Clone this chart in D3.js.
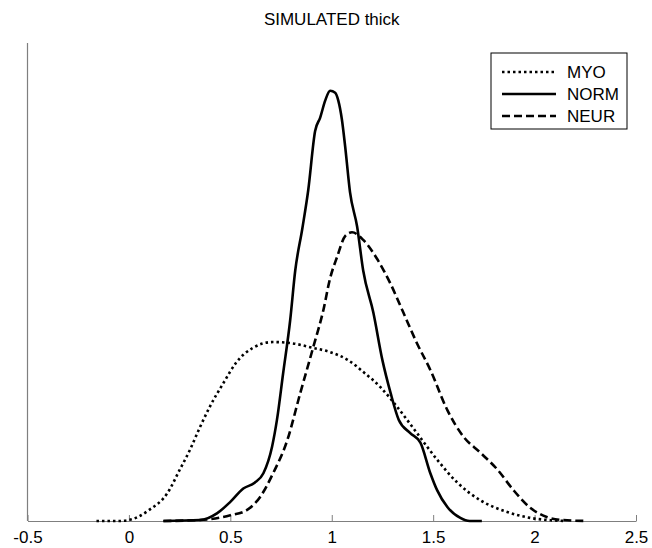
<!DOCTYPE html>
<html>
<head>
<meta charset="utf-8">
<script src="https://cdn.jsdelivr.net/npm/d3@7"></script>
<style>
  body { margin: 0; background: #fff; }
  text { font-family: "Liberation Sans", Arial, sans-serif; }
</style>
</head>
<body>
<div id="chart"></div>
<script>
var title = "SIMULATED thick";
var seriesNames = ["MYO", "NORM", "NEUR"];
var xTicks = [-0.5, 0, 0.5, 1, 1.5, 2, 2.5];

var myoX = [-0.16, -0.05, 0.0, 0.1, 0.19, 0.25, 0.3, 0.35, 0.4, 0.465, 0.53, 0.61, 0.71, 0.8, 0.91, 0.99, 1.08, 1.155, 1.24, 1.32, 1.42, 1.52, 1.62, 1.73, 1.865, 1.98, 2.08, 2.15];
var myoY = [0.0, 0.0, 0.005, 0.058, 0.146, 0.267, 0.37, 0.49, 0.6, 0.72, 0.83, 0.905, 0.936, 0.93, 0.905, 0.884, 0.842, 0.78, 0.70, 0.60, 0.46, 0.32, 0.20, 0.11, 0.047, 0.016, 0.004, 0.0];

var normX = [0.17, 0.35, 0.434, 0.5, 0.564, 0.62, 0.663, 0.706, 0.73, 0.76, 0.795, 0.82, 0.855, 0.884, 0.918, 0.943, 0.968, 0.992, 1.017, 1.032, 1.05, 1.066, 1.09, 1.125, 1.155, 1.205, 1.25, 1.29, 1.33, 1.387, 1.437, 1.486, 1.52, 1.57, 1.634, 1.68, 1.74];
var normY = [0.0, 0.005, 0.04, 0.10, 0.17, 0.20, 0.25, 0.39, 0.53, 0.77, 1.05, 1.31, 1.53, 1.73, 2.04, 2.11, 2.20, 2.25, 2.24, 2.20, 2.10, 1.96, 1.72, 1.54, 1.31, 1.09, 0.84, 0.67, 0.53, 0.46, 0.41, 0.25, 0.16, 0.073, 0.016, 0.0, 0.0];

var neurX = [0.17, 0.35, 0.5, 0.583, 0.647, 0.711, 0.78, 0.845, 0.909, 0.958, 0.992, 1.026, 1.066, 1.1, 1.155, 1.224, 1.29, 1.353, 1.42, 1.486, 1.57, 1.65, 1.73, 1.816, 1.897, 1.98, 2.06, 2.14, 2.26];
var neurY = [0.0, 0.005, 0.03, 0.058, 0.126, 0.25, 0.42, 0.67, 0.91, 1.10, 1.27, 1.38, 1.49, 1.51, 1.47, 1.37, 1.24, 1.09, 0.93, 0.79, 0.58, 0.44, 0.36, 0.27, 0.16, 0.068, 0.021, 0.005, 0.0];

var width = 652, height = 548;
var margin = {top: 43, left: 27.5, right: 16, bottom: 27};

var svg = d3.select("#chart").append("svg")
    .attr("width", width)
    .attr("height", height);

var xScale = d3.scaleLinear()
    .domain([-0.5, 2.5])
    .range([margin.left, width - margin.right]);

var yScale = d3.scaleLinear()
    .domain([0, 2.5])
    .range([height - margin.bottom, margin.top]);

var xAxis = svg.append("g")
    .attr("transform", `translate(0,${height - margin.bottom})`)
    .call(d3.axisBottom(xScale).tickValues(xTicks).tickSizeInner(-6).tickSizeOuter(0).tickPadding(10)
        .tickFormat(function(d) { return String(d); }));
xAxis.select(".domain").attr("stroke", "#7f7f7f").attr("stroke-width", 1.2);
xAxis.selectAll(".tick line").attr("stroke", "#7f7f7f");
xAxis.selectAll(".tick text")
    .attr("fill", "#000")
    .style("font-size", "17px")
    .style("font-family", "'Liberation Sans', Arial, sans-serif");

svg.append("line")
    .attr("x1", xScale(-0.5)).attr("x2", xScale(-0.5))
    .attr("y1", yScale(2.5)).attr("y2", yScale(0))
    .attr("stroke", "#7f7f7f")
    .attr("stroke-width", 1.2);

svg.append("text")
    .attr("x", (xScale(-0.5) + xScale(2.5)) / 2)
    .attr("y", 25)
    .attr("text-anchor", "middle")
    .style("font-size", "17px")
    .text(title);

var styles = {
    MYO: {dash: "2.5,3", width: 2.6},
    NORM: {dash: null, width: 2.6},
    NEUR: {dash: "8,4", width: 2.6}
};

var seriesData = [
    {name: "MYO", x: myoX, y: myoY},
    {name: "NORM", x: normX, y: normY},
    {name: "NEUR", x: neurX, y: neurY}
];

var line = d3.line()
    .x(function(d) { return xScale(d[0]); })
    .y(function(d) { return yScale(d[1]); })
    .curve(d3.curveMonotoneX);

seriesData.forEach(function(s) {
    var pts = s.x.map(function(v, i) { return [v, s.y[i]]; });
    svg.append("path")
        .datum(pts)
        .attr("fill", "none")
        .attr("stroke", "#000")
        .attr("stroke-width", styles[s.name].width)
        .attr("stroke-dasharray", styles[s.name].dash)
        .attr("d", line);
});

// legend
var legend = svg.append("g").attr("transform", "translate(491,53)");
legend.append("rect")
    .attr("width", 136).attr("height", 76)
    .attr("fill", "#fff")
    .attr("stroke", "#000")
    .attr("stroke-width", 1);

seriesNames.forEach(function(name, i) {
    var yy = 19 + i * 22;
    legend.append("line")
        .attr("x1", 11).attr("x2", 65)
        .attr("y1", yy).attr("y2", yy)
        .attr("stroke", "#000")
        .attr("stroke-width", styles[name].width)
        .attr("stroke-dasharray", styles[name].dash);
    legend.append("text")
        .attr("x", 76).attr("y", yy + 6)
        .style("font-size", "17px")
        .text(name);
});
</script>
</body>
</html>
